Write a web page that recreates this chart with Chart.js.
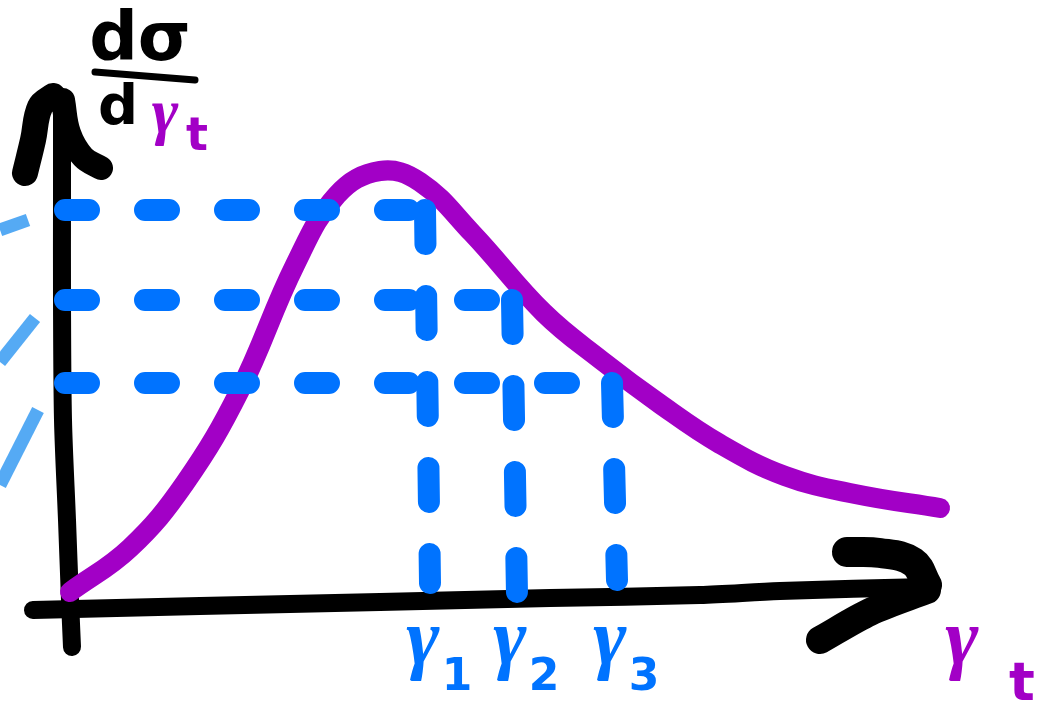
<!DOCTYPE html>
<html>
<head>
<meta charset="utf-8">
<script src="https://cdn.jsdelivr.net/npm/chart.js@4"></script>
<style>
  html, body { margin: 0; padding: 0; background: #fff; }
  #wrap { width: 1050px; height: 710px; }
</style>
</head>
<body>
<div id="wrap"><canvas id="sketch"></canvas></div>
<script>
// cross-section curve dσ/dγt against γt
var curveX = [0.05, 0.65, 1.2, 1.75, 2.3, 2.72, 3.15, 3.55, 4.07, 4.79, 5.36, 5.95, 6.55, 7.2, 7.9, 8.75];
var curveY = [0.08, 0.52, 1.17, 2.1, 3.35, 4.05, 4.29, 4.18, 3.67, 2.87, 2.4, 1.96, 1.56, 1.24, 1.06, 0.92];

// three levels read across to γ1, γ2, γ3
var levelY = [3.9, 3.0, 2.17];
var dropX = [3.6, 4.47, 5.47];
var dropEnd = [0.17, 0.05, 0.2];
var dropLabels = ['1', '2', '3'];

// hand-drawn axes
var yAxisX = [0.07, 0.05, 0.02, -0.02, -0.03, -0.03, -0.03];
var yAxisY = [-0.47, 0, 0.8, 1.8, 3.0, 4.0, 5.02];
var xAxisX = [-0.32, 1.35, 3.15, 4.85, 6.35, 7.15, 8.62];
var xAxisY = [-0.1, -0.06, -0.02, 0.02, 0.05, 0.09, 0.13];

function pts(xs, ys) {
    return xs.map(function (x, i) { return { x: x, y: ys[i] }; });
}

function stroke(data, color, width, extra) {
    var ds = {
        data: data,
        showLine: true,
        borderColor: color,
        borderWidth: width,
        borderCapStyle: 'round',
        borderJoinStyle: 'round',
        pointRadius: 0,
        tension: 0,
        clip: false
    };
    return Object.assign(ds, extra || {});
}

var datasets = [];

// blue dashed read-offs (drawn on top): across, then down
levelY.forEach(function (ly, i) {
    datasets.push(stroke(
        [{ x: 0, y: ly }, { x: dropX[i], y: ly }],
        '#0073ff', 22, { borderDash: [24, 56], order: 0 }
    ));
    datasets.push(stroke(
        [{ x: dropX[i], y: ly }, { x: dropX[i] + 0.05, y: dropEnd[i] }],
        '#0073ff', 22, { borderDash: [34, 52], order: 0 }
    ));
});

// purple curve
datasets.push(stroke(pts(curveX, curveY), '#a200c6', 20, { tension: 0.4, order: 1 }));

// axes and arrowheads
datasets.push(stroke(pts(yAxisX, yAxisY), '#000', 18, { tension: 0.3, order: 2 }));
datasets.push(stroke(pts(xAxisX, xAxisY), '#000', 18, { tension: 0.3, order: 2 }));
datasets.push(stroke(pts([-0.4, -0.32, -0.25, -0.12], [4.27, 4.6, 4.93, 5.04]), '#000', 26, { tension: 0.4, order: 2 }));
datasets.push(stroke(pts([-0.02, 0.04, 0.18, 0.36], [5.0, 4.67, 4.43, 4.32]), '#000', 24, { tension: 0.4, order: 2 }));
datasets.push(stroke(pts([7.82, 8.15, 8.48, 8.62], [0.48, 0.47, 0.38, 0.15]), '#000', 30, { tension: 0.4, order: 2 }));
datasets.push(stroke(pts([8.62, 8.05, 7.55], [0.1, -0.12, -0.4]), '#000', 28, { tension: 0.3, order: 2 }));

// light blue strokes at the left edge
datasets.push(stroke(pts([-0.65, -0.37], [3.7, 3.8]), '#55aaf4', 13, { borderCapStyle: 'butt', order: 3 }));
datasets.push(stroke(pts([-0.65, -0.3], [2.38, 2.82]), '#55aaf4', 13, { borderCapStyle: 'butt', order: 3 }));
datasets.push(stroke(pts([-0.65, -0.27], [1.15, 1.9]), '#55aaf4', 13, { borderCapStyle: 'butt', order: 3 }));

var sketchText = {
    id: 'sketchText',
    afterDraw: function (chart) {
        var ctx = chart.ctx;
        var xs = chart.scales.x;
        var gFont = '"Liberation Serif"';
        ctx.save();
        ctx.textBaseline = 'alphabetic';
        ctx.textAlign = 'center';

        // γ1, γ2, γ3 under the drops
        dropX.forEach(function (dx, i) {
            var px = xs.getPixelForValue(dx);
            ctx.fillStyle = '#0073ff';
            ctx.font = 'bold italic 80px ' + gFont;
            ctx.fillText('γ', px - 2, 664);
            ctx.font = 'bold 44px "DejaVu Sans"';
            ctx.fillText(dropLabels[i], px + 32, 690);
        });

        // x-axis title
        ctx.fillStyle = '#a200c6';
        ctx.font = 'bold italic 80px ' + gFont;
        ctx.fillText('γ', 962, 664);
        ctx.font = 'bold 54px "DejaVu Sans"';
        ctx.fillText('t', 1022, 700);

        // y-axis title dσ / dγt
        ctx.fillStyle = '#000';
        ctx.font = 'bold 68px "DejaVu Sans"';
        ctx.fillText('dσ', 140, 60);
        ctx.strokeStyle = '#000';
        ctx.lineWidth = 7;
        ctx.lineCap = 'round';
        ctx.beginPath();
        ctx.moveTo(95, 72);
        ctx.lineTo(195, 80);
        ctx.stroke();
        ctx.font = 'bold 56px "DejaVu Sans"';
        ctx.fillText('d', 118, 124);
        ctx.fillStyle = '#a200c6';
        ctx.font = 'bold italic 64px ' + gFont;
        ctx.fillText('γ', 165, 132);
        ctx.font = 'bold 46px "DejaVu Sans"';
        ctx.fillText('t', 197, 150);
        ctx.restore();
    }
};

new Chart(document.getElementById('sketch'), {
    type: 'scatter',
    data: { datasets: datasets },
    options: {
        responsive: true,
        maintainAspectRatio: false,
        animation: false,
        layout: { padding: 0 },
        plugins: {
            legend: { display: false },
            tooltip: { enabled: false }
        },
        scales: {
            x: { type: 'linear', min: -0.65, max: 9.85, display: false },
            y: { type: 'linear', min: -1.1, max: 6.0, display: false }
        }
    },
    plugins: [sketchText]
});
</script>
</body>
</html>
